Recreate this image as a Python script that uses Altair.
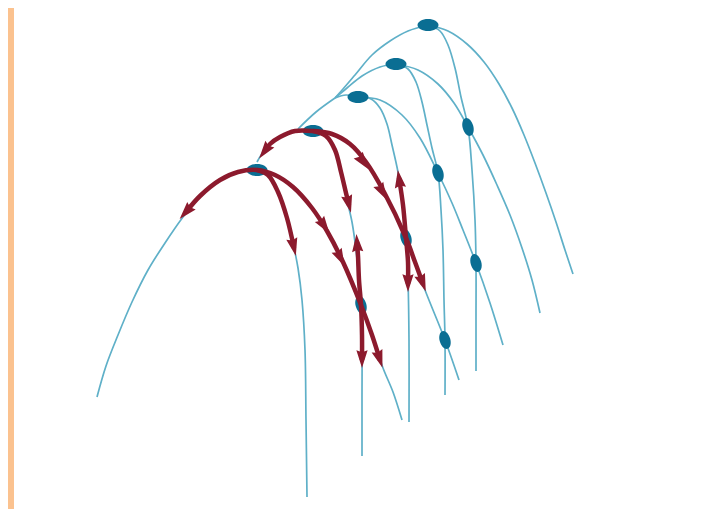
import math
import altair as alt
import pandas as pd

# ---- colours ----
PEACH = "#FBC28F"
BLUE = "#5FB0C8"
DOT = "#0A6E93"
RED = "#8C1A2D"

# ---- blue curves (picture coordinates) ----
L1 = [(257,170),(238,172),(220,180),(200,196),(183,217),(165,243),(148,270),(132,302),(118,335),(106,366),(97,397)]
S1 = [(257,170),(268,175),(278,192),(287,218),(293,243),(298,268),(302,300),(305,350),(306,420),(307,497)]
R1 = [(257,170),(275,175),(293,187),(312,208),(327,231),(343,262),(360,305),(372,335),(383,368),(393,392),(402,420)]
L2 = [(313,131),(295,131),(278,138),(266,148),(257,162)]
UT = [(298,129),(316,112),(335,98)]
L3 = [(358,97),(346,95),(335,98)]
L4 = [(396,64),(380,67),(362,76),(347,88),(335,98)]
L5 = [(428,25),(408,31),(390,41),(372,55),(355,75),(343,89),(335,98)]
S2 = [(313,131),(326,136),(335,150),(341,172),(347,200),(352,222),(356,250),(359,280),(361,305),(362,340),(362,400),(362,456)]
R2 = [(313,131),(332,134),(350,144),(366,162),(384,192),(406,238),(425,290),(445,340),(459,380)]
S3 = [(358,97),(371,99),(380,108),(387,124),(392,145),(398,172),(403,205),(406,238),(408,280),(409,340),(409,422)]
R3 = [(358,97),(380,100),(402,115),(420,138),(438,173),(452,203),(463,230),(476,263),(490,303),(503,345)]
S4 = [(396,64),(408,69),(416,82),(422,102),(427,125),(432,148),(438,173),(441,210),(443,250),(444,300),(445,340),(445,395)]
R4 = [(396,64),(418,70),(438,84),(454,103),(468,127),(483,155),(497,185),(510,215),(522,248),(532,280),(540,313)]
S5 = [(428,25),(440,31),(448,45),(455,68),(461,97),(468,127),(472,170),(475,220),(476,263),(476,320),(476,371)]
R5 = [(428,25),(448,31),(467,44),(484,62),(499,84),(512,108),(524,135),(535,163),(546,193),(556,222),(565,250),(573,274)]

# ---- red paths ----
RED_A1 = [(186,212),(200,196),(220,180),(238,172),(257,170),(275,175),(293,187),(312,208),
          (327,231),(343,262),(361,305),(372,335),(380,360)]
RED_A1S = [(257,170),(268,175),(278,192),(287,218),(294,248)]
RED_A2 = [(264,152),(270,144),(280,137),(295,131),(313,131),(332,134),(350,144),(366,162),
          (384,192),(406,238),(415,262),(423,284)]
RED_A2S = [(313,131),(326,136),(335,150),(341,172),(346,193),(349,205)]
RED_S2 = [(357,242),(358,256),(359,280),(361,305),(362,335),(362,360)]
RED_S3 = [(399,178),(403,205),(406,238),(408,262),(408,284)]

# ---- arrowheads: centre point and the point they come from ----
arrow_at = [(185,213),(294,248),(325,227),(341,259),(380,360),
            (264,152),(364,163),(383,193),(423,284),(349,205),
            (357,242),(362,360),(399,178),(408,284)]
arrow_from = [(200,196),(287,218),(312,208),(327,231),(372,335),
              (270,144),(350,144),(366,162),(415,262),(346,193),
              (358,256),(362,335),(403,205),(408,262)]

# ---- dots ----
apex_x = [257, 313, 358, 396, 428]
apex_y = [170, 131, 97, 64, 25]
cross_x = [361, 406, 438, 468, 476, 445]
cross_y = [305, 238, 173, 127, 263, 340]

blue_curves = {"L1": L1, "S1": S1, "R1": R1, "L2": L2, "UT": UT, "L3": L3, "L4": L4,
               "L5": L5, "S2": S2, "R2": R2, "S3": S3, "R3": R3, "S4": S4, "R4": R4,
               "S5": S5, "R5": R5}
red_curves = {"a": RED_A1, "b": RED_A1S, "c": RED_A2, "d": RED_A2S, "e": RED_S2, "f": RED_S3}


def to_rows(curves):
    rows = []
    for name, pts in curves.items():
        for i, (x, y) in enumerate(pts):
            rows.append({"curve": name, "i": i, "x": x, "y": y})
    return pd.DataFrame(rows)


blue_df = to_rows(blue_curves)
red_df = to_rows(red_curves)

arrow_rows = []
for (x1, y1), (x0, y0) in zip(arrow_at, arrow_from):
    ang = math.degrees(math.atan2(x1 - x0, -(y1 - y0))) % 360
    arrow_rows.append({"x": x1, "y": y1, "ang": ang})
arrow_df = pd.DataFrame(arrow_rows)

dot_rows = [{"x": x, "y": y, "ang": 0, "size": 440} for x, y in zip(apex_x, apex_y)]
dot_rows += [{"x": x, "y": y, "ang": 74, "size": 340} for x, y in zip(cross_x, cross_y)]
dot_df = pd.DataFrame(dot_rows)

X = alt.X("x:Q", scale=alt.Scale(domain=[14, 718], nice=False, zero=False), axis=None)
Y = alt.Y("y:Q", scale=alt.Scale(domain=[8, 509], reverse=True, nice=False, zero=False), axis=None)

ELLIPSE = "M-1,0 A1,0.58 0 1,1 1,0 A1,0.58 0 1,1 -1,0 Z"
ARROW = "M0,-0.95 L0.66,1.15 L0,0.9 L-0.66,1.15 Z"

blue = alt.Chart(blue_df).mark_line(interpolate="catmull-rom", color=BLUE, strokeWidth=1.7).encode(
    x=X, y=Y, detail="curve:N", order="i:Q")
dots = alt.Chart(dot_df).mark_point(shape=ELLIPSE, filled=True, color=DOT, opacity=1, strokeWidth=0).encode(
    x=X, y=Y, size=alt.Size("size:Q", scale=None), angle=alt.Angle("ang:Q", scale=None))
red = alt.Chart(red_df).mark_line(interpolate="catmull-rom", color=RED, strokeWidth=4.5).encode(
    x=X, y=Y, detail="curve:N", order="i:Q")
arrows = alt.Chart(arrow_df).mark_point(shape=ARROW, filled=True, color=RED, opacity=1, size=290, strokeWidth=0).encode(
    x=X, y=Y, angle=alt.Angle("ang:Q", scale=None))

chart = alt.layer(blue, dots, red, arrows).properties(
    width=704, height=501, autosize="none",
    padding={"left": 6, "top": 0, "right": 0, "bottom": 0},
    background=PEACH,
).configure_view(fill="white", strokeWidth=0)

chart.save("out.html", embed_options={"renderer": "svg", "actions": False})
